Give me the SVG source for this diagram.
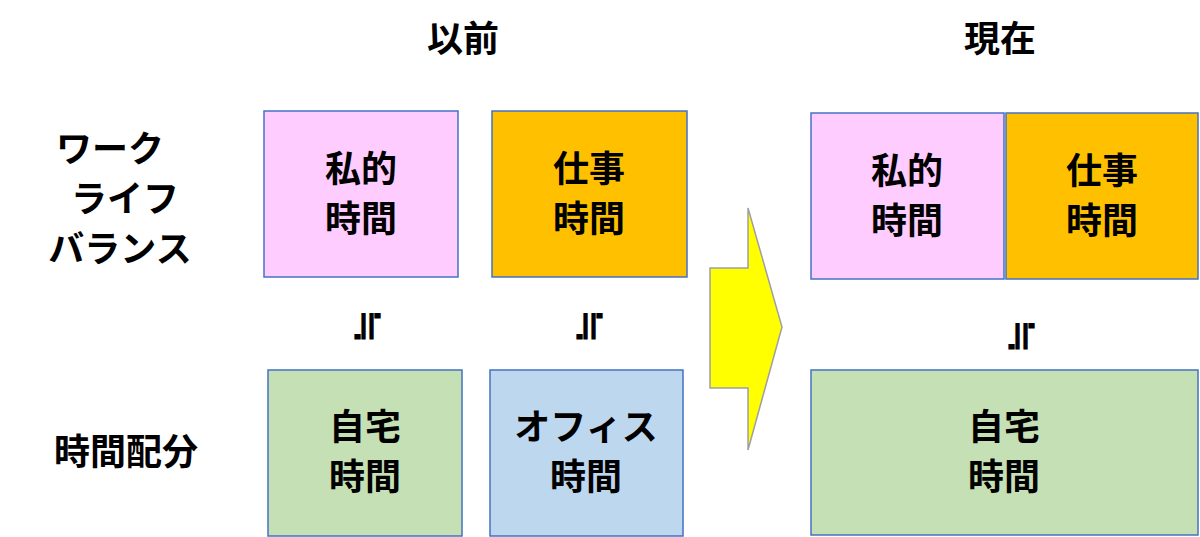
<svg xmlns="http://www.w3.org/2000/svg" width="1200" height="537" viewBox="0 0 1200 537">
<style>
text{font-family:"Noto Sans CJK JP","Noto Sans",sans-serif;font-weight:bold;font-size:36px;fill:#000;text-anchor:middle}
.b{stroke:#4472C4;stroke-width:1.5}
.eq{font-size:40px}
</style>
<rect width="1200" height="537" fill="#fff"/>
<text x="463" y="52">以前</text>
<text x="1000" y="52">現在</text>
<g id="label1"><text x="110" y="162">ワーク</text><text x="125" y="212">ライフ</text><text x="120" y="262">バランス</text></g>
<g id="label2"><text x="126" y="465">時間配分</text></g>
<g id="n1"><rect class="b" x="264" y="111" width="194" height="166" fill="#FFCCFF"/><text x="361" y="182">私的</text><text x="361" y="232">時間</text></g>
<g id="n2"><rect class="b" x="492" y="111" width="195" height="166" fill="#FFC000"/><text x="589" y="182">仕事</text><text x="589" y="232">時間</text></g>
<g id="n3"><rect class="b" x="268" y="370" width="194" height="166" fill="#C5E0B4"/><text x="365" y="440">自宅</text><text x="365" y="490">時間</text></g>
<g id="n4"><rect class="b" x="490" y="370" width="193" height="166" fill="#BDD7EE"/><text x="586" y="440">オフィス</text><text x="586" y="490">時間</text></g>
<g id="n5"><rect class="b" x="811" y="113" width="193" height="166" fill="#FFCCFF"/><text x="907" y="184">私的</text><text x="907" y="234">時間</text></g>
<g id="n6"><rect class="b" x="1006" y="113" width="192" height="166" fill="#FFC000"/><text x="1102" y="184">仕事</text><text x="1102" y="234">時間</text></g>
<g id="n7"><rect class="b" x="811" y="370" width="387" height="165" fill="#C5E0B4"/><text x="1004" y="440">自宅</text><text x="1004" y="490">時間</text></g>
<g id="connectors">
<polygon points="710,268 748,268 748,208 782,327 748,450 748,388 710,388" fill="#FFFF00" stroke="#A0A0A0" stroke-width="1.5"/>
<text class="eq" transform="translate(366,326) rotate(-90)" dy="14">≒</text>
<text class="eq" transform="translate(588,326) rotate(-90)" dy="14">≒</text>
<text class="eq" transform="translate(1020,336) rotate(-90)" dy="14">≒</text>
</g>
</svg>
